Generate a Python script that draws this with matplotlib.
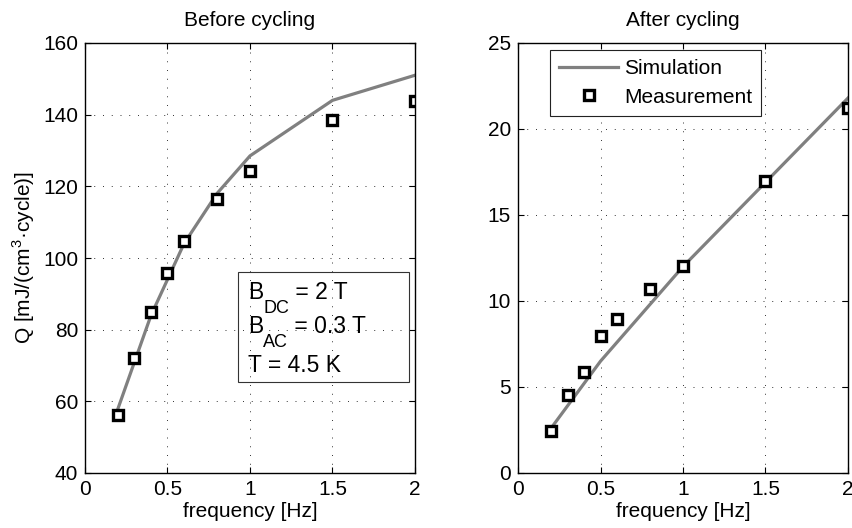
import matplotlib.pyplot as plt
from matplotlib.patches import Rectangle

plt.rcParams['font.family'] = ['Liberation Sans', 'DejaVu Sans']
plt.rcParams['mathtext.fontset'] = 'custom'
plt.rcParams['mathtext.rm'] = 'Liberation Sans'

freq = [0.2, 0.3, 0.4, 0.5, 0.6, 0.8, 1.0, 1.5, 2.0]

# before cycling
sim_before = [58, 71, 84, 94, 104, 118, 128.5, 144, 151]
meas_before = [56.2, 72, 84.8, 95.8, 104.7, 116.5, 124.3, 138.5, 143.9]

# after cycling
sim_after = [2.6, 3.9, 5.2, 6.5, 7.6, 9.8, 12.0, 16.9, 21.8]
meas_after = [2.44, 4.53, 5.89, 7.98, 8.93, 10.7, 12.03, 16.98, 21.2]

xticks = [0, 0.5, 1, 1.5, 2]
xticklabels = ['0', '0.5', '1', '1.5', '2']

# text in the box: (main, subscript, rest)
box_lines = [('B', 'DC', ' = 2 T'), ('B', 'AC', ' = 0.3 T'), ('T = 4.5 K', '', '')]

fig = plt.figure(figsize=(8.53, 5.28), dpi=100)
ax1 = fig.add_axes([85 / 853, 1 - 473 / 528, 330 / 853, 430 / 528])
ax2 = fig.add_axes([518 / 853, 1 - 473 / 528, 330 / 853, 430 / 528])


def style(ax, ylim, yticks, title):
    ax.set_xlim(0, 2)
    ax.set_ylim(*ylim)
    ax.set_xticks(xticks)
    ax.set_xticklabels(xticklabels)
    ax.set_yticks(yticks)
    ax.tick_params(direction='in', top=True, right=True, labelsize=15, length=4, pad=5)
    ax.grid(True, color='#333333', linestyle=(0, (1, 8)), linewidth=0.7)
    ax.set_title(title, fontsize=15, pad=12)
    ax.set_xlabel('frequency [Hz]', fontsize=15, labelpad=2)
    for s in ax.spines.values():
        s.set_linewidth(1.0)


ax1.plot(freq, sim_before, color='#808080', lw=2.3, label='Simulation')
ax1.plot(freq, meas_before, 's', ms=7.5, mfc='white', mec='black', mew=2.4, label='Measurement')
style(ax1, (40, 160), range(40, 161, 20), 'Before cycling')
ax1.set_ylabel('Q [mJ/(cm$^3$·cycle)]', fontsize=15, labelpad=4)

ax1.add_patch(Rectangle((0.464, 0.212), 0.518, 0.255, transform=ax1.transAxes,
                        fc='none', ec='#333333', lw=0.8, zorder=3))
for (main, sub, rest), yb in zip(box_lines, [0.404, 0.325, 0.236]):
    t = ax1.text(0.493, yb, main, transform=ax1.transAxes, fontsize=16.5, va='baseline', ha='left')
    if sub:
        s = ax1.annotate(sub, xy=(1, yb), xycoords=(t, ax1.transAxes), xytext=(0.3, -9.6),
                         textcoords='offset points', fontsize=13, va='baseline', ha='left')
        ax1.annotate(rest, xy=(1, yb), xycoords=(s, ax1.transAxes),
                     fontsize=16.5, va='baseline', ha='left')

ax2.plot(freq, sim_after, color='#808080', lw=2.3, label='Simulation')
ax2.plot(freq, meas_after, 's', ms=7.5, mfc='white', mec='black', mew=2.4, label='Measurement')
style(ax2, (0, 25), range(0, 26, 5), 'After cycling')
leg = ax2.legend(loc='upper left', bbox_to_anchor=(0.097, 0.984), fontsize=15, fancybox=False,
                 edgecolor='#222222', framealpha=1, handlelength=2.8, borderpad=0.45,
                 labelspacing=0.45, handletextpad=0.3, borderaxespad=0)
leg.get_frame().set_linewidth(0.8)

fig.savefig('out.png', dpi=100)
